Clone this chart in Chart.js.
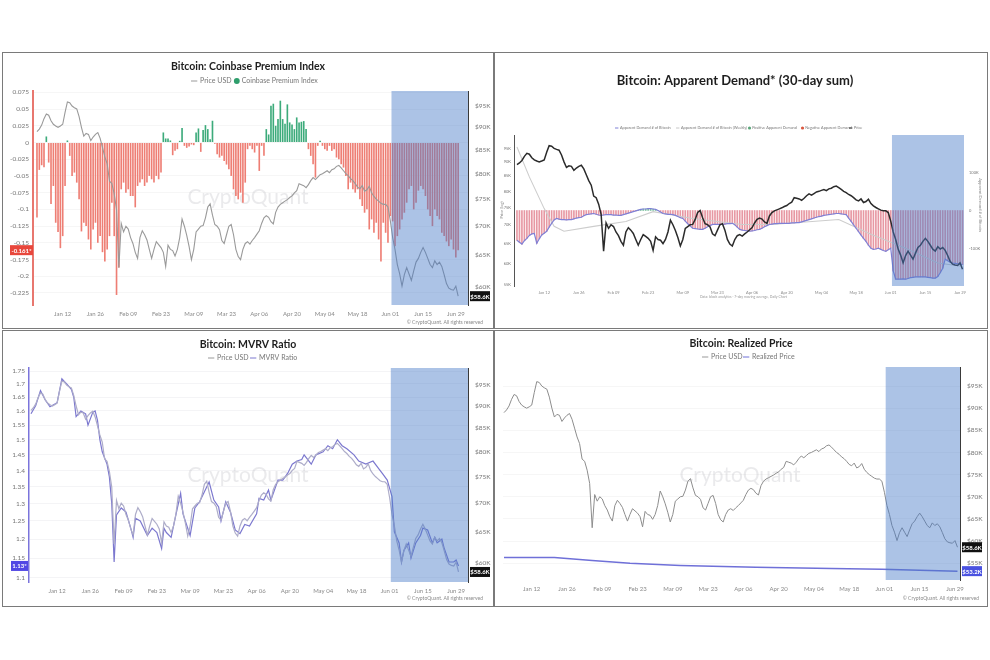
<!DOCTYPE html>
<html>
<head>
<meta charset="utf-8">
<script src="https://cdn.jsdelivr.net/npm/chart.js@4.4.1/dist/chart.umd.min.js"></script>
<style>
  html, body { margin: 0; padding: 0; background: #fff; }
  body { width: 990px; height: 660px; position: relative; overflow: hidden; }
  .panel { position: absolute; box-sizing: border-box; border: 1px solid #7a7a7a; background: #fff; }
  .panel canvas { position: absolute; left: 0; top: 0; }
</style>
</head>
<body>
<div class="panel" style="left:2px;top:52px;width:492px;height:277px"><canvas id="premiumChart" width="490" height="275"></canvas></div>
<div class="panel" style="left:494px;top:52px;width:494px;height:277px"><canvas id="demandChart" width="492" height="275"></canvas></div>
<div class="panel" style="left:2px;top:330px;width:492px;height:277px"><canvas id="mvrvChart" width="490" height="275"></canvas></div>
<div class="panel" style="left:494px;top:330px;width:494px;height:277px"><canvas id="realizedChart" width="492" height="275"></canvas></div>
<script>
// x axis: day number counted from Jan 01
const tickLabels = ['Jan 12', 'Jan 26', 'Feb 09', 'Feb 23', 'Mar 09', 'Mar 23', 'Apr 06', 'Apr 20', 'May 04', 'May 18', 'Jun 01', 'Jun 15', 'Jun 29'];
const tickDays = [11, 25, 39, 53, 67, 81, 95, 109, 123, 137, 151, 165, 179];
const highlightFrom = 151.5; // shaded period from Jun 01

// BTC price, USD thousands, one value per day from Jan 01 to Jun 30
const priceK = [
  89.0, 89.6, 90.5, 92.0, 93.1, 92.8, 91.5, 90.7, 90.3, 90.0,
  90.3, 90.7, 93.5, 96.0, 95.8, 95.0, 94.6, 94.3, 92.5, 90.0,
  88.0, 88.6, 88.4, 87.0, 87.8, 88.4, 88.8, 87.5, 85.5, 83.5,
  82.0, 78.5, 78.0, 76.0, 73.0, 63.0, 70.5, 69.0, 70.0, 69.5,
  68.0, 67.0, 65.5, 64.5, 68.0, 69.2, 68.5, 67.6, 66.0, 64.5,
  66.0, 67.3, 66.8, 66.3, 65.5, 63.2, 66.7, 66.0, 65.8, 64.9,
  66.0, 68.0, 71.3, 70.0, 68.4, 66.5, 64.3, 66.0, 69.0, 69.5,
  70.0, 70.1, 71.5, 73.5, 74.1, 72.0, 70.3, 70.0, 69.4, 67.5,
  67.0, 68.5, 70.0, 70.3, 68.5, 66.0, 64.8, 64.3, 66.0, 67.0,
  67.3, 66.9, 67.5, 68.0, 68.6, 69.2, 70.5, 71.5, 71.9, 71.6,
  70.8, 70.4, 72.5, 73.5, 74.0, 74.3, 74.6, 74.9, 75.3, 75.6,
  76.2, 76.6, 78.0, 77.8, 77.6, 77.2, 77.8, 78.6, 79.2, 78.8,
  79.3, 79.8, 80.0, 80.3, 80.6, 80.2, 80.8, 81.0, 81.5, 81.7,
  81.2, 80.6, 80.0, 79.6, 79.0, 78.6, 78.0, 77.3, 77.0, 77.6,
  76.5, 76.8, 77.5, 76.2, 75.5, 75.0, 74.6, 74.2, 74.0, 74.0,
  73.5, 71.0, 68.0, 66.0, 63.5, 62.0, 60.1, 61.9, 63.0, 62.0,
  61.0, 62.5, 63.9, 64.5, 65.5, 66.3, 65.5, 64.5, 63.5, 63.0,
  64.1, 63.5, 63.9, 63.2, 61.9, 60.5, 59.8, 59.6, 59.5, 60.1,
  58.6
];
const priceTicksK = [60, 65, 70, 75, 80, 85, 90, 95];

// Coinbase Premium Index, one value per day
const premiumIndex = [
  -0.112, -0.041, -0.034, -0.037, 0.009, -0.03, -0.092, -0.065, -0.12, -0.134,
  -0.158, -0.14, -0.065, 0.003, -0.02, -0.05, -0.045, -0.06, -0.085, -0.133,
  -0.12, -0.125, -0.145, -0.16, -0.13, -0.12, -0.15, -0.14, -0.164, -0.178,
  -0.16, -0.14, -0.09, -0.14, -0.228, -0.187, -0.07, -0.06, -0.075, -0.07,
  -0.08, -0.08, -0.097, -0.065, -0.06, -0.055, -0.065, -0.06, -0.05, -0.055,
  -0.06, -0.05, -0.055, -0.045, 0.015, 0.006, 0.006, 0.003, -0.019, -0.0125,
  -0.01, 0.0025, 0.0215, -0.005, -0.008, -0.006, -0.003, -0.004, 0.015, 0.021,
  -0.014, 0.0185, 0.026, 0.02, 0.005, 0.0325, -0.002, -0.0175, -0.0225, -0.02,
  -0.0275, -0.033, -0.04, -0.05, -0.07, -0.08, -0.085, -0.075, -0.09, -0.06,
  -0.01, -0.005, -0.01, -0.015, -0.005, -0.0425, -0.005, -0.02, 0.02, 0.012,
  0.055, 0.058, 0.025, 0.035, 0.0625, 0.035, 0.028, 0.057, 0.03, 0.027,
  0.02, 0.0375, 0.03, 0.031, 0.032, 0.02, -0.01, -0.02, -0.0325, -0.0525,
  -0.005, 0.0025, -0.005, -0.01, -0.0125, -0.005, -0.0125, -0.01, -0.0225, -0.025,
  -0.0325, -0.0375, -0.05, -0.07, -0.06, -0.07, -0.075, -0.07, -0.085, -0.095,
  -0.105, -0.1, -0.13, -0.115, -0.135, -0.12, -0.145, -0.178, -0.12, -0.135,
  -0.15, -0.11, -0.118, -0.155, -0.14, -0.13, -0.115, -0.105, -0.09, -0.07,
  -0.065, -0.1, -0.09, -0.072, -0.065, -0.07, -0.08, -0.1, -0.11, -0.125,
  -0.1, -0.11, -0.115, -0.135, -0.14, -0.148, -0.155, -0.145, -0.16, -0.172,
  -0.161
];
const premiumTicks = [0.075, 0.05, 0.025, 0, -0.025, -0.05, -0.075, -0.1, -0.125, -0.15, -0.175, -0.2, -0.225];

// Apparent demand, 30-day sum, thousand BTC, one value per day
const demandK = [
  -79, -84, -89, -80, -74, -66, -62, -61, -87, -75,
  -65, -60, -55, -44, -34, -25, -21, -23, -24, -24,
  -25, -24, -24, -22, -20, -19, -18, -14, -11, -10,
  -9, -8, -10, -12, -13, -12, -11, -11, -11, -12,
  -12, -13, -13, -11, -9, -7, -5, -3, -1, 1,
  3, 4, 4, 5, 5, 4, 3, 0, -4, -8,
  -9, -10, -10, -11, -13, -16, -19, -21, -28, -35,
  -41, -47, -48, -49, -50, -50, -47, -43, -40, -37,
  -37, -37, -37, -37, -36, -35, -35, -34, -38, -44,
  -50, -52, -53, -54, -55, -54, -53, -51, -50, -47,
  -43, -40, -37, -36, -35, -35, -34, -34, -34, -34,
  -34, -33, -33, -32, -32, -30, -28, -26, -24, -22,
  -20, -18, -16, -15, -13, -12, -11, -10, -9, -8,
  -8, -9, -10, -11, -20, -29, -38, -47, -56, -65,
  -74, -82, -92, -100, -103, -102, -100, -103, -106, -108,
  -104, -100, -160, -182, -182, -182, -181, -182, -180, -178,
  -177, -176, -176, -176, -176, -176, -177, -178, -179, -179,
  -175, -165, -153, -129, -133, -137, -139, -140, -141, -142,
  -143
];
const weeklyDays = [0, 5, 11, 15, 19, 31, 44, 55, 71, 91, 103, 130, 143, 157, 170, 179];
const weeklyDemandK = [168, 89, 5, -42, -55, -42, -29, -3, -21, -37, -37, -24, -63, -100, -139, -147];
const demandTicksK = [100, 0, -100];
const demandPriceTicksK = [55, 60, 65, 70, 75, 80, 85, 90, 95];

// MVRV ratio, read at these days
const mvrvDays = [0, 2, 4, 6, 8, 11, 13, 15, 17, 18, 19, 21, 23, 24, 26, 27, 28, 29, 30, 32,
  33, 34, 35, 36, 38, 40, 42, 43, 44, 46, 49, 51, 53, 55, 56, 57, 59, 61, 63, 64,
  67, 69, 71, 75, 77, 79, 80, 82, 84, 86, 88, 90, 92, 95, 96, 98, 100, 101, 104, 106,
  108, 110, 112, 114, 115, 118, 120, 123, 125, 127, 129, 131, 133, 136, 138, 141, 144, 146, 148, 150,
  152, 153, 155, 156, 157, 159, 160, 162, 164, 165, 167, 169, 170, 171, 173, 174, 176, 178, 179, 180];
const mvrvRatio = [1.59, 1.62, 1.675, 1.64, 1.615, 1.63, 1.72, 1.70, 1.68, 1.65, 1.58, 1.60, 1.59, 1.55, 1.595, 1.60, 1.567, 1.50, 1.46, 1.42,
  1.38, 1.30, 1.14, 1.267, 1.287, 1.275, 1.23, 1.205, 1.258, 1.25, 1.21, 1.23, 1.218, 1.175, 1.23, 1.218, 1.205, 1.267, 1.33, 1.27,
  1.21, 1.287, 1.305, 1.364, 1.31, 1.29, 1.25, 1.305, 1.275, 1.225, 1.215, 1.24, 1.236, 1.27, 1.315, 1.31, 1.34, 1.31, 1.37, 1.37,
  1.39, 1.42, 1.43, 1.435, 1.45, 1.42, 1.45, 1.46, 1.48, 1.47, 1.50, 1.48, 1.47, 1.45, 1.43, 1.42, 1.43, 1.41, 1.39, 1.37,
  1.32, 1.22, 1.19, 1.14, 1.17, 1.19, 1.15, 1.19, 1.21, 1.23, 1.225, 1.19, 1.205, 1.19, 1.20, 1.175, 1.14, 1.14, 1.145, 1.13];
const mvrvTicks = [1.1, 1.15, 1.2, 1.25, 1.3, 1.35, 1.4, 1.45, 1.5, 1.55, 1.6, 1.65, 1.7, 1.75];

// Realized price, USD thousands
const realizedDays = [0, 20, 35, 50, 70, 100, 130, 150, 165, 180];
const realizedPriceK = [56.3, 56.3, 55.6, 55.0, 54.5, 54.1, 53.8, 53.6, 53.4, 53.2];
const realizedTicksK = [55, 60, 65, 70, 75, 80, 85, 90, 95];

const daily = arr => arr.map((v, i) => ({x: i, y: v}));
const pairs = (days, vals) => days.map((d, i) => ({x: d, y: vals[i]}));
const last = arr => arr[arr.length - 1];

Chart.defaults.font.family = 'Lato';
Chart.defaults.color = '#7a7a7a';

function txt(ctx, s, x, y, font, color, align) {
  ctx.save();
  ctx.font = font;
  ctx.fillStyle = color;
  ctx.textAlign = align || 'left';
  ctx.textBaseline = 'middle';
  ctx.fillText(s, x, y);
  ctx.restore();
}

function badge(ctx, s, x, y, w, bg) {
  ctx.save();
  ctx.fillStyle = bg;
  ctx.fillRect(x, y - 5, w, 10);
  ctx.restore();
  txt(ctx, s, x + w / 2, y + 0.5, 'bold 6px Lato', '#fff', 'center');
}

function legendLine(ctx, x, y, color, s, size) {
  ctx.save();
  ctx.strokeStyle = color;
  ctx.lineWidth = 1;
  ctx.beginPath();
  ctx.moveTo(x, y);
  ctx.lineTo(x + size * 0.9, y);
  ctx.stroke();
  ctx.restore();
  txt(ctx, s, x + size * 1.3, y, size + 'px Lato', '#777');
}

function legendDot(ctx, x, y, color, s, size) {
  ctx.save();
  ctx.fillStyle = color;
  ctx.beginPath();
  ctx.arc(x + size * 0.4, y, size * 0.42, 0, Math.PI * 2);
  ctx.fill();
  ctx.restore();
  txt(ctx, s, x + size * 1.1, y, size + 'px Lato', '#777');
}

function dayAxis(min, max, height, fontSize, pad) {
  return {
    type: 'linear', min: min, max: max, offset: false,
    grid: {display: false, drawTicks: false, offset: false},
    border: {display: false},
    afterBuildTicks: s => { s.ticks = tickDays.map(v => ({value: v})); },
    afterFit: s => { s.height = height; },
    ticks: {
      autoSkip: false, maxRotation: 0, padding: pad, color: '#8a8a8a',
      font: {size: fontSize},
      callback: (v, i) => tickLabels[i]
    }
  };
}

function valueAxis(type, position, min, max, width, tickList, fmt, fontSize, pad, borderColor, borderWidth, gridColor) {
  return {
    type: type, position: position, min: min, max: max,
    grid: {display: !!gridColor, color: gridColor || '#fff', drawTicks: false},
    border: {display: !!borderColor, color: borderColor || '#fff', width: borderWidth || 1},
    afterBuildTicks: s => { s.ticks = tickList.map(v => ({value: v})); },
    afterFit: s => { s.width = width; },
    ticks: {padding: pad, color: '#777', font: {size: fontSize}, callback: fmt}
  };
}

// shaded recent period plus a redrawn right axis line
const highlightBox = {
  id: 'highlightBox',
  afterDatasetsDraw(chart, args, opts) {
    const {ctx, chartArea, scales} = chart;
    const x0 = scales.x.getPixelForValue(highlightFrom);
    ctx.save();
    ctx.fillStyle = 'rgba(72,122,200,0.45)';
    ctx.fillRect(x0, chartArea.top, chartArea.right - x0, chartArea.bottom - chartArea.top);
    if (opts.axisLine) {
      ctx.strokeStyle = opts.axisLine;
      ctx.lineWidth = 1;
      ctx.beginPath();
      ctx.moveTo(chartArea.right + 0.5, chartArea.top);
      ctx.lineTo(chartArea.right + 0.5, chartArea.bottom);
      ctx.stroke();
    }
    ctx.restore();
  }
};

const watermark = {
  id: 'watermark',
  beforeDatasetsDraw(chart, args, opts) {
    if (!opts.y) return;
    txt(chart.ctx, 'CryptoQuant', opts.x, opts.y, '21px Lato', 'rgba(160,160,170,0.22)', 'center');
  }
};

const baseOptions = {
  responsive: false,
  animation: false,
  events: [],
  plugins: {legend: {display: false}, tooltip: {enabled: false}, title: {display: false}}
};

// ---------- Coinbase Premium Index ----------
new Chart(document.getElementById('premiumChart'), {
  type: 'bar',
  data: {
    datasets: [
      {type: 'line', label: 'Price USD', data: daily(priceK), yAxisID: 'yPrice',
        borderColor: '#9a9a9a', borderWidth: 1.1, pointRadius: 0, order: 0},
      {type: 'bar', label: 'Coinbase Premium Index', data: daily(premiumIndex), yAxisID: 'yPrem',
        backgroundColor: premiumIndex.map(v => v >= 0 ? '#3dab7b' : '#ee7e74'),
        categoryPercentage: 1, barPercentage: 0.7, order: 1}
    ]
  },
  options: Object.assign({}, baseOptions, {
    layout: {padding: {top: 38, left: 0, right: 0, bottom: 0}},
    plugins: Object.assign({}, baseOptions.plugins, {
      highlightBox: {axisLine: '#3a3a3a'},
      watermark: {x: 245, y: 144}
    }),
    scales: {
      x: dayAxis(-1.7, 184.2, 23, 6, 5),
      yPrem: valueAxis('linear', 'left', -0.243, 0.077, 30, premiumTicks, v => String(v), 6.5, 4, '#e8776f', 2, '#f6f6f6'),
      yPrice: valueAxis('logarithmic', 'right', 57.3, 98.7, 25, priceTicksK, v => '$' + v + 'K', 6.5, 7, '#3a3a3a', 1, null)
    }
  }),
  plugins: [watermark, highlightBox, {
    id: 'premiumText',
    afterDraw(chart) {
      const {ctx, chartArea, scales} = chart;
      txt(ctx, 'Bitcoin: Coinbase Premium Index', 245, 14, 'bold 10.5px Lato', '#1e1e1e', 'center');
      legendLine(ctx, 188, 28, '#999', 'Price USD', 7);
      legendDot(ctx, 231, 28, '#2f9e6c', 'Coinbase Premium Index', 7);
      badge(ctx, last(premiumIndex) + '*', chartArea.left - 23, scales.yPrem.getPixelForValue(last(premiumIndex)), 23, '#e8473c');
      badge(ctx, '$' + last(priceK).toFixed(1) + 'K', chartArea.right + 2, scales.yPrice.getPixelForValue(last(priceK)), 20, '#111');
      txt(ctx, '\u00a9 CryptoQuant. All rights reserved', 480, 269, '5px Lato', '#8a8a8a', 'right');
    }
  }]
});

// ---------- Apparent Demand ----------
new Chart(document.getElementById('demandChart'), {
  type: 'bar',
  data: {
    datasets: [
      {type: 'line', label: 'Price', data: daily(priceK), yAxisID: 'yP',
        borderColor: '#2b2b2b', borderWidth: 1.5, pointRadius: 0, order: 0},
      {type: 'line', label: 'Apparent Demand # of Bitcoin', data: daily(demandK), yAxisID: 'yD',
        borderColor: '#7f80d6', borderWidth: 1.2, pointRadius: 0, order: 1},
      {type: 'line', label: 'Apparent Demand # of Bitcoin (Weekly)', data: pairs(weeklyDays, weeklyDemandK), yAxisID: 'yD',
        borderColor: '#cdcdcd', borderWidth: 1.1, pointRadius: 0, order: 2},
      {type: 'bar', label: 'Apparent Demand', data: daily(demandK), yAxisID: 'yD',
        backgroundColor: demandK.map(v => v >= 0 ? 'rgba(70,170,120,0.7)' : 'rgba(222,112,128,0.72)'),
        barThickness: 1, order: 5}
    ]
  },
  options: Object.assign({}, baseOptions, {
    layout: {padding: {top: 82, left: 0, right: 0, bottom: 0}},
    plugins: Object.assign({}, baseOptions.plugins, {highlightBox: {}, watermark: {}}),
    scales: {
      x: dayAxis(-1.2, 180.6, 42, 4, 4),
      yP: valueAxis('logarithmic', 'left', 54.8, 100.2, 19, demandPriceTicksK, v => v + 'K', 4, 3, '#555', 1, null),
      yD: valueAxis('linear', 'right', -200, 200, 23, demandTicksK, v => v === 0 ? '0' : v + 'K', 4, 5, null, 1, null)
    }
  }),
  plugins: [highlightBox, {
    id: 'demandText',
    afterDraw(chart) {
      const {ctx} = chart;
      txt(ctx, 'Bitcoin: Apparent Demand* (30-day sum)', 240, 28, 'bold 13px Lato', '#1e1e1e', 'center');
      legendLine(ctx, 120, 75, '#7f80d6', 'Apparent Demand # of Bitcoin', 3.8);
      legendLine(ctx, 181, 75, '#c8c8c8', 'Apparent Demand # of Bitcoin (Weekly)', 3.8);
      legendDot(ctx, 253, 75, '#5aa67a', 'Positive Apparent Demand', 3.8);
      legendDot(ctx, 306, 75, '#d9573f', 'Negative Apparent Demand', 3.8);
      legendLine(ctx, 354, 75, '#333', 'Price', 3.8);
      txt(ctx, 'Data: block analytics \u00b7 7-day moving average, Daily Chart', 205, 244, '3.5px Lato', '#999');
      ctx.save();
      ctx.translate(7, 157);
      ctx.rotate(-Math.PI / 2);
      txt(ctx, 'Price (log)', 0, 0, '4px Lato', '#888', 'center');
      ctx.restore();
      ctx.save();
      ctx.translate(485, 152);
      ctx.rotate(Math.PI / 2);
      txt(ctx, 'Apparent Demand # of Bitcoin', 0, 0, '4px Lato', '#888', 'center');
      ctx.restore();
    }
  }]
});

// ---------- MVRV Ratio ----------
new Chart(document.getElementById('mvrvChart'), {
  type: 'line',
  data: {
    datasets: [
      {label: 'Price USD', data: daily(priceK), yAxisID: 'yPrice',
        borderColor: '#aeadc9', borderWidth: 1.2, pointRadius: 0},
      {label: 'MVRV Ratio', data: pairs(mvrvDays, mvrvRatio), yAxisID: 'yMvrv',
        borderColor: '#7c78cf', borderWidth: 1.2, pointRadius: 0}
    ]
  },
  options: Object.assign({}, baseOptions, {
    layout: {padding: {top: 37, left: 0, right: 0, bottom: 0}},
    plugins: Object.assign({}, baseOptions.plugins, {
      highlightBox: {axisLine: '#3a3a3a'},
      watermark: {x: 245, y: 144}
    }),
    scales: {
      x: dayAxis(-0.84, 184, 24, 6, 5),
      yMvrv: valueAxis('logarithmic', 'left', 1.09, 1.762, 26, mvrvTicks, v => String(v), 6.5, 4, '#7b74dc', 1.5, '#f4f4f6'),
      yPrice: valueAxis('logarithmic', 'right', 57.1, 99.3, 25, priceTicksK, v => '$' + v + 'K', 6.5, 7, '#3a3a3a', 1, null)
    }
  }),
  plugins: [watermark, highlightBox, {
    id: 'mvrvText',
    afterDraw(chart) {
      const {ctx, chartArea, scales} = chart;
      txt(ctx, 'Bitcoin: MVRV Ratio', 245, 14, 'bold 10.5px Lato', '#1e1e1e', 'center');
      legendLine(ctx, 205, 27, '#999', 'Price USD', 7);
      legendLine(ctx, 247, 27, '#7c78cf', 'MVRV Ratio', 7);
      badge(ctx, last(mvrvRatio) + '*', chartArea.left - 18, scales.yMvrv.getPixelForValue(last(mvrvRatio)), 17, '#5147e4');
      badge(ctx, '$' + last(priceK).toFixed(1) + 'K', chartArea.right + 2, scales.yPrice.getPixelForValue(last(priceK)), 20, '#111');
      txt(ctx, '\u00a9 CryptoQuant. All rights reserved', 480, 267, '5px Lato', '#8a8a8a', 'right');
    }
  }]
});

// ---------- Realized Price ----------
new Chart(document.getElementById('realizedChart'), {
  type: 'line',
  data: {
    datasets: [
      {label: 'Price USD', data: daily(priceK), yAxisID: 'yR',
        borderColor: '#8d8d8d', borderWidth: 1, pointRadius: 0},
      {label: 'Realized Price', data: pairs(realizedDays, realizedPriceK), yAxisID: 'yR',
        borderColor: '#6f70d8', borderWidth: 1.5, pointRadius: 0}
    ]
  },
  options: Object.assign({}, baseOptions, {
    layout: {padding: {top: 36, left: 8, right: 0, bottom: 0}},
    plugins: Object.assign({}, baseOptions.plugins, {
      highlightBox: {axisLine: '#3a3a3a'},
      watermark: {x: 245, y: 144}
    }),
    scales: {
      x: dayAxis(-0.4, 181, 26, 6, 5),
      yR: valueAxis('linear', 'right', 51.2, 99.3, 27, realizedTicksK, v => '$' + v + 'K', 6.5, 7, '#3a3a3a', 1, '#f6f6f6')
    }
  }),
  plugins: [watermark, highlightBox, {
    id: 'realizedText',
    afterDraw(chart) {
      const {ctx, chartArea, scales} = chart;
      txt(ctx, 'Bitcoin: Realized Price', 246, 13, 'bold 10.5px Lato', '#1e1e1e', 'center');
      legendLine(ctx, 207, 26, '#999', 'Price USD', 7);
      legendLine(ctx, 248, 26, '#6f70d8', 'Realized Price', 7);
      badge(ctx, '$' + last(priceK).toFixed(1) + 'K', chartArea.right + 2, scales.yR.getPixelForValue(last(priceK)), 20, '#111');
      badge(ctx, '$' + last(realizedPriceK).toFixed(1) + 'K', chartArea.right + 2, scales.yR.getPixelForValue(last(realizedPriceK)), 20, '#4a52e0');
      txt(ctx, '\u00a9 CryptoQuant. All rights reserved', 484, 267, '5px Lato', '#8a8a8a', 'right');
    }
  }]
});
</script>
</body>
</html>
